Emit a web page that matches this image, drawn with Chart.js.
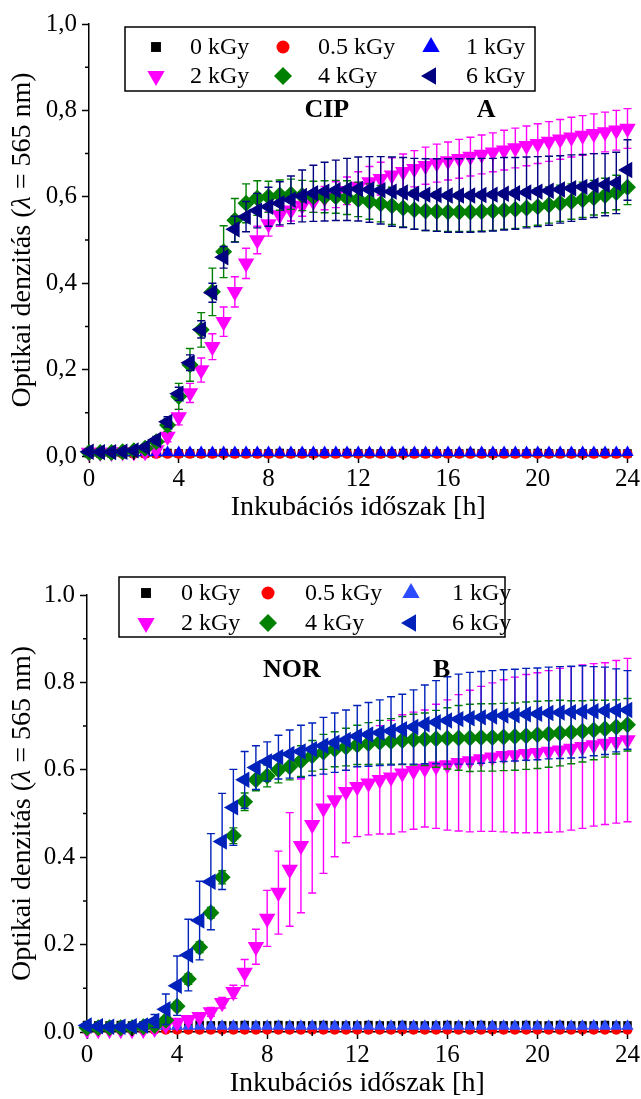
<!DOCTYPE html>
<html>
<head>
<meta charset="utf-8">
<script src="https://cdn.jsdelivr.net/npm/chart.js@4.4.1/dist/chart.umd.min.js"></script>
<style>
  html, body { margin: 0; padding: 0; background: #fff; }
  canvas { display: block; position: absolute; left: 0; }
  #cip-chart { top: 0; }
  #nor-chart { top: 548px; }
</style>
</head>
<body>
<canvas id="cip-chart" width="641" height="528"></canvas>
<canvas id="nor-chart" width="641" height="551"></canvas>
<script>
// ---- mérési időpontok (h) és dózisok ----
const HOURS = [
  0, 0.5, 1, 1.5, 2, 2.5, 3, 3.5, 4, 4.5,
  5, 5.5, 6, 6.5, 7, 7.5, 8, 8.5, 9, 9.5,
  10, 10.5, 11, 11.5, 12, 12.5, 13, 13.5, 14, 14.5,
  15, 15.5, 16, 16.5, 17, 17.5, 18, 18.5, 19, 19.5,
  20, 20.5, 21, 21.5, 22, 22.5, 23, 23.5, 24
];
const DOSES = ['0 kGy', '0.5 kGy', '1 kGy', '2 kGy', '4 kGy', '6 kGy'];
const X_TICKS = [0, 4, 8, 12, 16, 20, 24];
const X_MINOR = [2, 6, 10, 14, 18, 22];
const Y_TICKS = [0, 0.2, 0.4, 0.6, 0.8, 1.0];
const Y_MINOR = [0.1, 0.3, 0.5, 0.7, 0.9];
const X_TITLE = 'Inkubációs időszak [h]';
const Y_TITLE = ['Optikai denzitás (', 'λ', ' = 565 nm)'];

// ---- A: CIP ----
const cip0 = [
  0.006, 0.006, 0.006, 0.007, 0.006, 0.006, 0.006, 0.007, 0.006, 0.006,
  0.006, 0.006, 0.007, 0.006, 0.006, 0.006, 0.006, 0.007, 0.006, 0.006,
  0.006, 0.006, 0.006, 0.007, 0.006, 0.006, 0.006, 0.006, 0.007, 0.006,
  0.006, 0.006, 0.006, 0.006, 0.007, 0.006, 0.006, 0.006, 0.006, 0.006,
  0.007, 0.006, 0.006, 0.006, 0.006, 0.006, 0.007, 0.006, 0.006
];
const cip05 = [
  0.005, 0.005, 0.005, 0.005, 0.005, 0.005, 0.005, 0.005, 0.005, 0.005,
  0.005, 0.005, 0.005, 0.005, 0.005, 0.005, 0.005, 0.005, 0.005, 0.005,
  0.005, 0.005, 0.005, 0.005, 0.005, 0.005, 0.005, 0.005, 0.005, 0.005,
  0.005, 0.005, 0.005, 0.005, 0.005, 0.005, 0.005, 0.005, 0.005, 0.005,
  0.005, 0.005, 0.005, 0.005, 0.005, 0.005, 0.005, 0.005, 0.005
];
const cip1 = [
  0.008, 0.008, 0.008, 0.008, 0.008, 0.008, 0.008, 0.008, 0.008, 0.008,
  0.008, 0.008, 0.008, 0.008, 0.008, 0.008, 0.008, 0.008, 0.008, 0.008,
  0.008, 0.008, 0.008, 0.008, 0.008, 0.008, 0.008, 0.008, 0.008, 0.008,
  0.008, 0.008, 0.008, 0.008, 0.008, 0.008, 0.008, 0.008, 0.008, 0.008,
  0.008, 0.008, 0.008, 0.008, 0.008, 0.008, 0.008, 0.008, 0.008
];
const cip2 = [
  0.008, 0.008, 0.008, 0.009, 0.009, 0.010, 0.014, 0.045, 0.090, 0.146,
  0.199, 0.253, 0.311, 0.380, 0.446, 0.500, 0.537, 0.558, 0.569, 0.580,
  0.589, 0.597, 0.605, 0.614, 0.624, 0.634, 0.642, 0.650, 0.658, 0.665,
  0.672, 0.678, 0.683, 0.688, 0.693, 0.698, 0.703, 0.708, 0.713, 0.718,
  0.723, 0.728, 0.733, 0.738, 0.742, 0.746, 0.750, 0.754, 0.758
];
const cip2Err = [
  0.003, 0.003, 0.003, 0.003, 0.003, 0.003, 0.005, 0.012, 0.018, 0.022,
  0.028, 0.030, 0.034, 0.035, 0.035, 0.032, 0.028, 0.026, 0.025, 0.025,
  0.025, 0.027, 0.030, 0.032, 0.034, 0.036, 0.038, 0.040, 0.041, 0.042,
  0.043, 0.044, 0.044, 0.045, 0.045, 0.045, 0.045, 0.046, 0.046, 0.046,
  0.046, 0.046, 0.046, 0.046, 0.046, 0.046, 0.046, 0.046, 0.046
];
const cip4 = [
  0.008, 0.008, 0.008, 0.010, 0.012, 0.018, 0.033, 0.072, 0.138, 0.211,
  0.292, 0.380, 0.473, 0.546, 0.585, 0.597, 0.600, 0.604, 0.606, 0.603,
  0.600, 0.600, 0.600, 0.598, 0.594, 0.589, 0.584, 0.579, 0.574, 0.570,
  0.567, 0.566, 0.565, 0.565, 0.565, 0.566, 0.567, 0.569, 0.571, 0.574,
  0.577, 0.581, 0.585, 0.589, 0.593, 0.598, 0.603, 0.610, 0.622
];
const cip4Err = [
  0.003, 0.003, 0.003, 0.003, 0.003, 0.005, 0.008, 0.015, 0.030, 0.038,
  0.040, 0.055, 0.060, 0.050, 0.045, 0.040, 0.036, 0.035, 0.035, 0.035,
  0.036, 0.037, 0.038, 0.039, 0.040, 0.041, 0.042, 0.043, 0.044, 0.045,
  0.045, 0.045, 0.045, 0.045, 0.045, 0.045, 0.045, 0.044, 0.044, 0.043,
  0.043, 0.042, 0.042, 0.041, 0.041, 0.040, 0.040, 0.040, 0.040
];
const cip6 = [
  0.010, 0.009, 0.009, 0.010, 0.013, 0.020, 0.037, 0.079, 0.144, 0.216,
  0.293, 0.378, 0.460, 0.525, 0.554, 0.568, 0.577, 0.585, 0.593, 0.602,
  0.608, 0.612, 0.615, 0.617, 0.618, 0.617, 0.615, 0.612, 0.610, 0.607,
  0.605, 0.604, 0.603, 0.603, 0.603, 0.604, 0.605, 0.607, 0.608, 0.610,
  0.612, 0.614, 0.617, 0.620, 0.623, 0.626, 0.628, 0.632, 0.662
];
const cip6Err = [
  0.004, 0.004, 0.004, 0.004, 0.004, 0.004, 0.008, 0.012, 0.015, 0.018,
  0.020, 0.022, 0.025, 0.030, 0.035, 0.040, 0.045, 0.050, 0.055, 0.060,
  0.065, 0.068, 0.070, 0.072, 0.074, 0.076, 0.078, 0.080, 0.081, 0.082,
  0.083, 0.084, 0.085, 0.085, 0.085, 0.085, 0.084, 0.084, 0.083, 0.082,
  0.081, 0.080, 0.078, 0.077, 0.075, 0.074, 0.072, 0.071, 0.070
];

// ---- B: NOR ----
const nor0 = [
  0.016, 0.015, 0.015, 0.016, 0.015, 0.015, 0.016, 0.015, 0.015, 0.015,
  0.016, 0.015, 0.015, 0.015, 0.016, 0.015, 0.015, 0.016, 0.015, 0.015,
  0.015, 0.016, 0.015, 0.015, 0.015, 0.016, 0.015, 0.015, 0.016, 0.015,
  0.015, 0.015, 0.016, 0.015, 0.015, 0.016, 0.015, 0.015, 0.015, 0.016,
  0.015, 0.015, 0.016, 0.015, 0.015, 0.015, 0.016, 0.015, 0.015
];
const nor05 = [
  0.005, 0.005, 0.005, 0.005, 0.005, 0.005, 0.005, 0.005, 0.005, 0.005,
  0.005, 0.005, 0.005, 0.005, 0.005, 0.005, 0.005, 0.005, 0.005, 0.005,
  0.005, 0.005, 0.005, 0.005, 0.005, 0.005, 0.005, 0.005, 0.005, 0.005,
  0.005, 0.005, 0.005, 0.005, 0.005, 0.005, 0.005, 0.005, 0.005, 0.005,
  0.005, 0.005, 0.005, 0.005, 0.005, 0.005, 0.005, 0.005, 0.005
];
const nor1 = [
  0.012, 0.012, 0.012, 0.013, 0.013, 0.013, 0.013, 0.013, 0.013, 0.013,
  0.013, 0.013, 0.013, 0.013, 0.013, 0.013, 0.013, 0.013, 0.013, 0.013,
  0.013, 0.013, 0.013, 0.013, 0.013, 0.013, 0.013, 0.013, 0.013, 0.013,
  0.013, 0.013, 0.013, 0.013, 0.013, 0.013, 0.013, 0.013, 0.013, 0.013,
  0.013, 0.013, 0.014, 0.013, 0.013, 0.014, 0.013, 0.013, 0.013
];
const nor2 = [
  0.005, 0.005, 0.005, 0.005, 0.005, 0.006, 0.008, 0.016, 0.022, 0.028,
  0.035, 0.046, 0.067, 0.092, 0.136, 0.195, 0.260, 0.319, 0.372, 0.426,
  0.474, 0.512, 0.531, 0.550, 0.561, 0.569, 0.577, 0.583, 0.592, 0.598,
  0.603, 0.608, 0.611, 0.616, 0.620, 0.625, 0.629, 0.632, 0.634, 0.637,
  0.639, 0.642, 0.645, 0.649, 0.653, 0.657, 0.660, 0.664, 0.668
];
const nor2Err = [
  0.003, 0.003, 0.003, 0.003, 0.003, 0.003, 0.003, 0.005, 0.006, 0.008,
  0.008, 0.010, 0.012, 0.015, 0.030, 0.040, 0.064, 0.095, 0.130, 0.153,
  0.156, 0.149, 0.130, 0.117, 0.114, 0.118, 0.124, 0.130, 0.134, 0.134,
  0.134, 0.142, 0.149, 0.156, 0.162, 0.166, 0.170, 0.174, 0.178, 0.181,
  0.183, 0.185, 0.187, 0.187, 0.187, 0.186, 0.185, 0.186, 0.187
];
const nor4 = [
  0.010, 0.010, 0.010, 0.010, 0.010, 0.012, 0.015, 0.027, 0.059, 0.121,
  0.194, 0.273, 0.354, 0.449, 0.527, 0.577, 0.586, 0.600, 0.607, 0.620,
  0.632, 0.641, 0.647, 0.652, 0.657, 0.660, 0.663, 0.665, 0.667, 0.669,
  0.670, 0.671, 0.672, 0.673, 0.673, 0.674, 0.674, 0.675, 0.676, 0.678,
  0.680, 0.682, 0.684, 0.686, 0.688, 0.691, 0.694, 0.698, 0.703
];
const nor4Err = [
  0.003, 0.003, 0.003, 0.003, 0.003, 0.003, 0.004, 0.008, 0.010, 0.012,
  0.012, 0.012, 0.015, 0.018, 0.020, 0.025, 0.025, 0.030, 0.030, 0.035,
  0.035, 0.040, 0.040, 0.043, 0.045, 0.048, 0.050, 0.052, 0.055, 0.058,
  0.060, 0.065, 0.070, 0.074, 0.077, 0.077, 0.077, 0.077, 0.077, 0.077,
  0.077, 0.076, 0.075, 0.072, 0.070, 0.068, 0.065, 0.062, 0.060
];
const nor6 = [
  0.015, 0.013, 0.012, 0.012, 0.013, 0.015, 0.025, 0.052, 0.106, 0.176,
  0.255, 0.344, 0.436, 0.514, 0.577, 0.605, 0.619, 0.629, 0.636, 0.642,
  0.647, 0.655, 0.662, 0.668, 0.677, 0.681, 0.685, 0.689, 0.693, 0.698,
  0.704, 0.709, 0.713, 0.716, 0.718, 0.720, 0.722, 0.724, 0.725, 0.727,
  0.728, 0.730, 0.731, 0.732, 0.733, 0.734, 0.735, 0.736, 0.737
];
const nor6Err = [
  0.005, 0.005, 0.005, 0.005, 0.005, 0.005, 0.015, 0.035, 0.068, 0.082,
  0.090, 0.110, 0.110, 0.087, 0.065, 0.050, 0.045, 0.050, 0.055, 0.060,
  0.060, 0.065, 0.068, 0.069, 0.070, 0.073, 0.075, 0.078, 0.080, 0.085,
  0.090, 0.095, 0.100, 0.103, 0.105, 0.105, 0.105, 0.105, 0.105, 0.105,
  0.105, 0.105, 0.105, 0.105, 0.105, 0.102, 0.100, 0.095, 0.090
];

// ---- stílusok ----
const SERIF = "'Liberation Serif', 'Times New Roman', serif";
// jelölő alak, forgatás, sugár (0, 0.5, 1, 2, 4, 6 kGy)
const MARKERS = [
  { style: 'rect', rot: 0, r: 6 },
  { style: 'circle', rot: 0, r: 5 },
  { style: 'triangle', rot: 0, r: 7 },
  { style: 'triangle', rot: 180, r: 9.5 },
  { style: 'rectRot', rot: 0, r: 8.5 },
  { style: 'triangle', rot: 270, r: 9.5 }
];

// hibasávok: minden sorozat a saját jelölői alá rajzolja
const errorBars = {
  id: 'errorBars',
  beforeDatasetDraw(chart, args) {
    const ds = chart.data.datasets[args.index];
    if (!ds.errors) return;
    const ys = chart.scales.y, ctx = chart.ctx;
    ctx.save();
    ctx.strokeStyle = ds.pointBorderColor;
    ctx.lineWidth = 1.4;
    ctx.beginPath();
    args.meta.data.forEach((pt, i) => {
      const e = ds.errors[i];
      const v = ds.data[i].y;
      const top = ys.getPixelForValue(v + e), bot = ys.getPixelForValue(v - e);
      ctx.moveTo(pt.x, top); ctx.lineTo(pt.x, bot);
      ctx.moveTo(pt.x - 4, top); ctx.lineTo(pt.x + 4, top);
      ctx.moveTo(pt.x - 4, bot); ctx.lineTo(pt.x + 4, bot);
    });
    ctx.stroke();
    ctx.restore();
  }
};

// rövid mellékosztások a tengelyeken
const minorTicks = {
  id: 'minorTicks',
  afterDraw(chart) {
    const { x, y } = chart.scales, ctx = chart.ctx;
    ctx.save();
    ctx.strokeStyle = '#000';
    ctx.lineWidth = 1.5;
    ctx.beginPath();
    X_MINOR.forEach(v => { const px = x.getPixelForValue(v); ctx.moveTo(px, x.top); ctx.lineTo(px, x.top + 4); });
    Y_MINOR.forEach(v => { const py = y.getPixelForValue(v); ctx.moveTo(y.right, py); ctx.lineTo(y.right - 4, py); });
    ctx.stroke();
    ctx.restore();
  }
};

// függőleges tengelycím, dőlt lambdával
const yTitle = {
  id: 'yTitle',
  afterDraw(chart, args, o) {
    const ctx = chart.ctx, a = chart.chartArea;
    const fonts = ['28px ' + SERIF, 'italic 28px ' + SERIF, '28px ' + SERIF];
    let total = 0;
    const widths = Y_TITLE.map((t, i) => { ctx.font = fonts[i]; const w = ctx.measureText(t).width; total += w; return w; });
    ctx.save();
    ctx.translate(o.x, (a.top + a.bottom) / 2);
    ctx.rotate(-Math.PI / 2);
    ctx.fillStyle = '#000';
    ctx.textBaseline = 'middle';
    let cx = -total / 2;
    Y_TITLE.forEach((t, i) => { ctx.font = fonts[i]; ctx.fillText(t, cx, 0); cx += widths[i]; });
    ctx.restore();
  }
};

// keretes jelmagyarázat 3 x 2 elrendezésben
const doseLegend = {
  id: 'doseLegend',
  afterDraw(chart, args, o) {
    const ctx = chart.ctx;
    ctx.save();
    ctx.lineWidth = 1.5;
    ctx.strokeStyle = '#000';
    ctx.strokeRect(o.box[0], o.box[1], o.box[2] - o.box[0], o.box[3] - o.box[1]);
    ctx.font = '24px ' + SERIF;
    ctx.textBaseline = 'middle';
    chart.data.datasets.forEach((ds, i) => {
      const col = i % 3, yy = o.rows[Math.floor(i / 3)];
      ctx.fillStyle = ds.pointBackgroundColor;
      Chart.helpers.drawPoint(ctx, { pointStyle: ds.pointStyle, rotation: ds.pointRotation, radius: o.radius[i], borderWidth: 0 }, o.markerX[col], yy);
      ctx.fillStyle = '#000';
      ctx.fillText(ds.label, o.textX[col], yy + 1);
    });
    ctx.restore();
  }
};

// panelfeliratok adatkoordinátákban
const panelLabels = {
  id: 'panelLabels',
  afterDraw(chart, args, o) {
    const ctx = chart.ctx, { x, y } = chart.scales;
    ctx.save();
    ctx.font = 'bold 26px ' + SERIF;
    ctx.fillStyle = '#000';
    ctx.textAlign = 'center';
    ctx.textBaseline = 'middle';
    o.items.forEach(it => ctx.fillText(it.text, x.getPixelForValue(it.x), y.getPixelForValue(it.y)));
    ctx.restore();
  }
};

function makePanel(id, p) {
  const datasets = p.series.map((s, i) => ({
    label: DOSES[i],
    data: HOURS.map((h, j) => ({ x: h, y: s[j] })),
    errors: p.errors[i],
    pointStyle: MARKERS[i].style,
    pointRotation: MARKERS[i].rot,
    pointRadius: MARKERS[i].r,
    pointBackgroundColor: p.colors[i],
    pointBorderColor: p.colors[i],
    pointBorderWidth: 0,
    showLine: false,
    clip: false,
    order: 5 - i
  }));
  const tickFont = { family: SERIF, size: 25 };
  return new Chart(document.getElementById(id), {
    type: 'scatter',
    data: { datasets },
    plugins: [errorBars, minorTicks, yTitle, doseLegend, panelLabels],
    options: {
      responsive: false,
      animation: false,
      devicePixelRatio: 1,
      events: [],
      layout: { padding: { left: 0, right: 13, top: p.top, bottom: 0 } },
      plugins: {
        legend: { display: false },
        tooltip: { enabled: false },
        yTitle: { x: 23 },
        doseLegend: p.legend,
        panelLabels: { items: p.labels }
      },
      scales: {
        x: {
          type: 'linear', min: 0, max: 24,
          afterFit: s => { s.height = p.xHeight; },
          afterBuildTicks: s => { s.ticks = X_TICKS.map(v => ({ value: v })); },
          border: { color: '#000', width: 1.5 },
          grid: { drawOnChartArea: false, tickLength: 7, tickColor: '#000', tickWidth: 1.5 },
          ticks: { font: tickFont, color: '#000', padding: 1, maxRotation: 0, autoSkip: false },
          title: { display: true, text: X_TITLE, color: '#000', font: { family: SERIF, size: 28, lineHeight: 1.1 }, padding: { top: 0, bottom: p.titlePad } }
        },
        y: {
          type: 'linear', min: 0, max: 1,
          afterFit: s => { s.width = p.yWidth; },
          afterBuildTicks: s => { s.ticks = Y_TICKS.map(v => ({ value: v })); },
          border: { color: '#000', width: 1.5 },
          grid: { drawOnChartArea: false, tickLength: 7, tickColor: '#000', tickWidth: 1.5 },
          ticks: { font: tickFont, color: '#000', padding: 5, callback: v => p.fmt(v) }
        }
      }
    }
  });
}

makePanel('cip-chart', {
  series: [cip0, cip05, cip1, cip2, cip4, cip6],
  errors: [null, null, null, cip2Err, cip4Err, cip6Err],
  colors: ['#000000', '#ff0000', '#0000ff', '#ff00ff', '#008000', '#000080'],
  top: 24, xHeight: 72, yWidth: 89, titlePad: 5,
  fmt: v => v.toFixed(1).replace('.', ','),
  legend: { box: [125, 27, 535, 91], rows: [47, 76], markerX: [156, 283, 431], textX: [190, 318, 466], radius: [7, 6.5, 10, 10, 9, 10] },
  labels: [{ text: 'CIP', x: 10.6, y: 0.8 }, { text: 'A', x: 17.7, y: 0.8 }]
});

makePanel('nor-chart', {
  series: [nor0, nor05, nor1, nor2, nor4, nor6],
  errors: [null, null, null, nor2Err, nor4Err, nor6Err],
  colors: ['#000000', '#ff0000', '#2e4cff', '#ff00ff', '#008000', '#0022bb'],
  top: 47, xHeight: 67, yWidth: 87, titlePad: 0,
  fmt: v => v.toFixed(1),
  legend: { box: [119, 29, 505, 89], rows: [45, 75], markerX: [146, 268, 411], textX: [181, 305, 452], radius: [7, 6.5, 10, 10, 9, 10] },
  labels: [{ text: 'NOR', x: 9.1, y: 0.828 }, { text: 'B', x: 15.75, y: 0.828 }]
});
</script>
</body>
</html>
